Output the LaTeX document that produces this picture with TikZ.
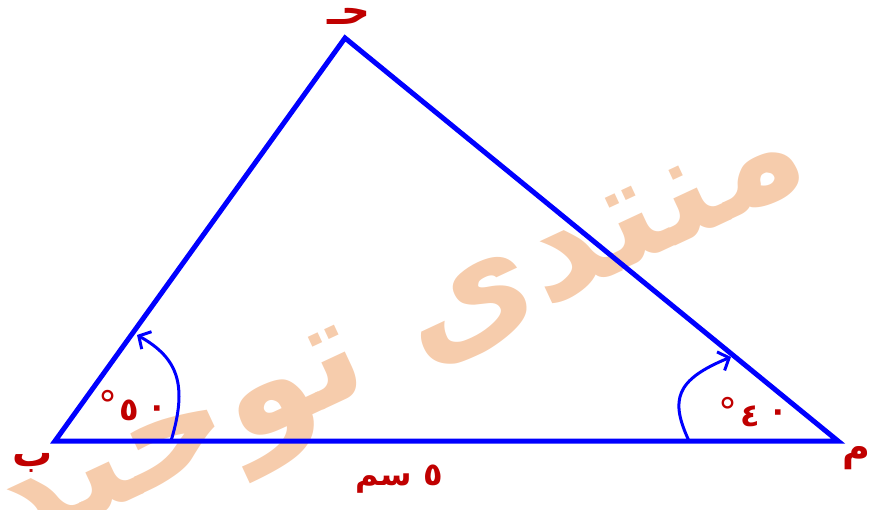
\documentclass[tikz,border=0pt]{standalone}
\usepackage{fontspec}
\newfontfamily\arabicfont[Script=Arabic]{DejaVu Sans}
\TeXXeTstate=1
\usetikzlibrary{arrows.meta}
\definecolor{triblue}{RGB}{0,0,255}
\definecolor{lblred}{RGB}{192,0,0}
\definecolor{wmorange}{RGB}{246,204,172}
\tikzset{
  side/.style={draw=triblue, line width=5pt, line join=miter},
  anglearrow/.style={draw=triblue, line width=3pt, -{Straight Barb[length=9pt,width=20pt,line width=3pt]}},
  vlabel/.style={text=lblred, font=\arabicfont\bfseries\fontsize{40}{40}\selectfont, inner sep=0pt},
  alabel/.style={text=lblred, font=\arabicfont\bfseries\fontsize{32}{32}\selectfont, inner sep=0pt},
  deglabel/.style={text=lblred, font=\arabicfont\fontsize{38}{38}\selectfont, inner sep=0pt},
}
\begin{document}
\begin{tikzpicture}[x=1pt,y=-1pt]
\useasboundingbox (0,0) rectangle (872,509);
% watermark
\node[text=wmorange, font=\arabicfont\bfseries\fontsize{148}{148}\selectfont, rotate=25, inner sep=0pt] (wm) at (405,352) {\beginR منتدى توحيد\endR};
% vertices
\coordinate (B) at (55,441);
\coordinate (C) at (345,38);
\coordinate (A) at (838,441);
\draw[side] (B) -- (C) -- (A) -- cycle;
% angle arrows
\coordinate (b1) at (171,441);
\coordinate (b2) at (137,335);
\draw[anglearrow] (b1) .. controls (188,385) and (178,358) .. (b2);
\coordinate (a1) at (689,441);
\coordinate (a2) at (731,357);
\draw[anglearrow] (a1) .. controls (670,400) and (675,380) .. (a2);
% vertex labels
\node[vlabel] (lC) at (349,16) {\beginR حـ\endR};
\node[vlabel] (lB) at (33,463) {\beginR ب\endR};
\node[vlabel, font=\arabicfont\bfseries\fontsize{38}{38}\selectfont] (lA) at (856,458) {\beginR م\endR};
% angle labels (visual order: degree, digit, zero)
\node[deglabel] (dB) at (108,404) {°};
\node[alabel] (nB5) at (129,410) {٥};
\node[alabel] (nB0) at (157,412) {٠};
\node[deglabel] (dA) at (728,411) {°};
\node[alabel] (nA4) at (750,416) {٤};
\node[alabel] (nA0) at (778,416) {٠};
% base length
\node[text=lblred, font=\arabicfont\bfseries\fontsize{32}{32}\selectfont, inner sep=0pt] (len) at (399,479) {\beginR ٥ سم\endR};
\end{tikzpicture}
\end{document}
